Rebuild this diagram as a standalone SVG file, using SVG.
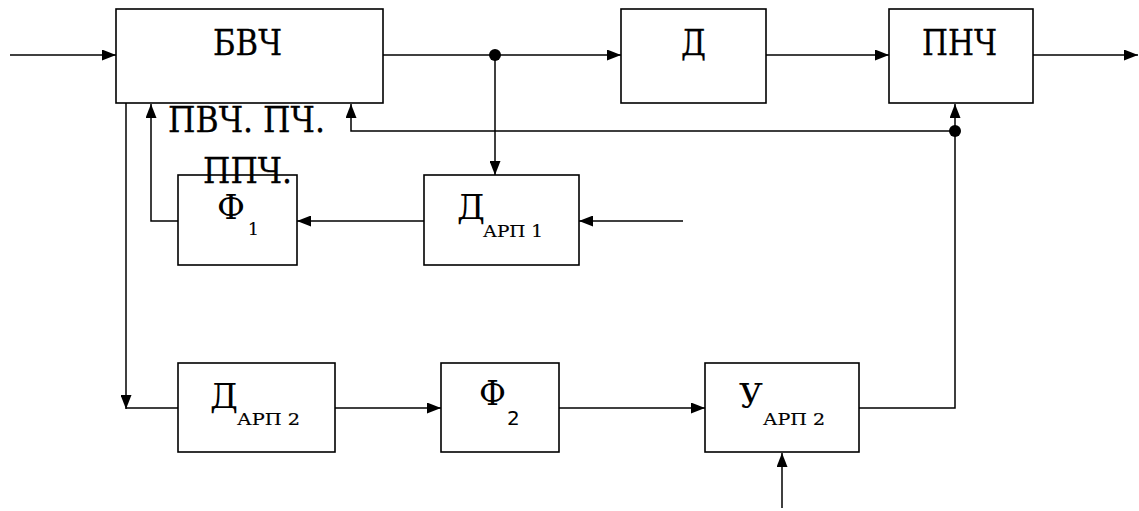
<svg xmlns="http://www.w3.org/2000/svg" width="1139" height="511" viewBox="0 0 1139 511">
  <style>
    .box { fill: #fff; stroke: #000; stroke-width: 1.6; }
    .wire { fill: none; stroke: #000; stroke-width: 1.5; }
    .arr { marker-end: url(#head); }
    .dot { fill: #000; }
    text { font-family: "DejaVu Serif", "Liberation Serif", serif; fill: #000; stroke: #000; stroke-width: 0.3; }
    .big { font-size: 36px; }
    .mid { font-size: 33px; stroke-width: 0; }
    .sub { font-size: 17px; stroke-width: 0.2; }
    .subsans { font-family: "DejaVu Sans", "Liberation Sans", sans-serif; font-size: 20px; stroke-width: 0; }
  </style>
  <defs>
    <marker id="head" markerUnits="userSpaceOnUse" markerWidth="14" markerHeight="11" refX="14" refY="5.5" orient="auto">
      <path d="M0,0 L14,5.5 L0,11 z" fill="#000"/>
    </marker>
  </defs>
  <rect width="1139" height="511" fill="#fff"/>

  <!-- connectors -->
  <g id="connectors">
    <line class="wire arr" x1="10" y1="55" x2="116" y2="55"/>
    <line class="wire arr" x1="383" y1="55" x2="621" y2="55"/>
    <line class="wire arr" x1="766" y1="55" x2="889" y2="55"/>
    <line class="wire arr" x1="1033" y1="55" x2="1138" y2="55"/>
    <line class="wire arr" x1="495" y1="55" x2="495" y2="175"/>
    <!-- feedback to БВЧ and ПНЧ -->
    <polyline class="wire arr" points="955,131 351,131 351,104"/>
    <line class="wire arr" x1="955" y1="131" x2="955" y2="104"/>
    <polyline class="wire" points="859,408 955,408 955,131"/>
    <!-- loop 1 -->
    <line class="wire arr" x1="683" y1="221" x2="579" y2="221"/>
    <line class="wire arr" x1="424" y1="221" x2="297" y2="221"/>
    <polyline class="wire arr" points="178,221 151,221 151,104"/>
    <!-- loop 2 -->
    <line class="wire arr" x1="126" y1="103" x2="126" y2="409"/>
    <line class="wire" x1="126" y1="408" x2="178" y2="408"/>
    <line class="wire arr" x1="335" y1="408" x2="441" y2="408"/>
    <line class="wire arr" x1="559" y1="408" x2="705" y2="408"/>
    <line class="wire arr" x1="782" y1="508" x2="782" y2="453"/>
    <ellipse class="dot" cx="495" cy="55" rx="6" ry="6"/>
    <ellipse class="dot" cx="955" cy="131" rx="6" ry="6"/>
  </g>

  <g id="bvch">
    <rect class="box" x="116" y="9" width="267" height="94"/>
    <text class="big" x="213" y="55" textLength="69" lengthAdjust="spacingAndGlyphs">БВЧ</text>
  </g>
  <g id="d">
    <rect class="box" x="621" y="9" width="145" height="94"/>
    <text class="big" x="681" y="55" textLength="25" lengthAdjust="spacingAndGlyphs">Д</text>
  </g>
  <g id="pnch">
    <rect class="box" x="889" y="9" width="144" height="94"/>
    <text class="big" x="922" y="55" textLength="75" lengthAdjust="spacingAndGlyphs">ПНЧ</text>
  </g>
  <g id="f1">
    <rect class="box" x="178" y="175" width="119" height="90"/>
    <text class="mid" x="217" y="219" textLength="28" lengthAdjust="spacingAndGlyphs">Ф</text>
    <text class="sub" x="248" y="235">1</text>
  </g>
  <g id="label">
    <text class="big" x="168" y="132" textLength="157" lengthAdjust="spacingAndGlyphs">ПВЧ. ПЧ.</text>
    <text class="big" x="203" y="183" textLength="89" lengthAdjust="spacingAndGlyphs">ППЧ.</text>
  </g>
  <g id="darp1">
    <rect class="box" x="424" y="175" width="155" height="90"/>
    <text class="mid" x="457" y="219" textLength="28" lengthAdjust="spacingAndGlyphs">Д</text>
    <text class="sub" x="483" y="237" textLength="60" lengthAdjust="spacingAndGlyphs">АРП 1</text>
  </g>
  <g id="darp2">
    <rect class="box" x="178" y="363" width="157" height="89"/>
    <text class="mid" x="210" y="408" textLength="28" lengthAdjust="spacingAndGlyphs">Д</text>
    <text class="sub" x="237" y="425" textLength="63" lengthAdjust="spacingAndGlyphs">АРП 2</text>
  </g>
  <g id="f2">
    <rect class="box" x="441" y="363" width="118" height="89"/>
    <text class="mid" x="479" y="405" textLength="27" lengthAdjust="spacingAndGlyphs">Ф</text>
    <text class="subsans" x="507" y="425">2</text>
  </g>
  <g id="uarp2">
    <rect class="box" x="705" y="363" width="154" height="89"/>
    <text class="mid" x="739" y="408">У</text>
    <text class="sub" x="763" y="425" textLength="62" lengthAdjust="spacingAndGlyphs">АРП 2</text>
  </g>
</svg>
